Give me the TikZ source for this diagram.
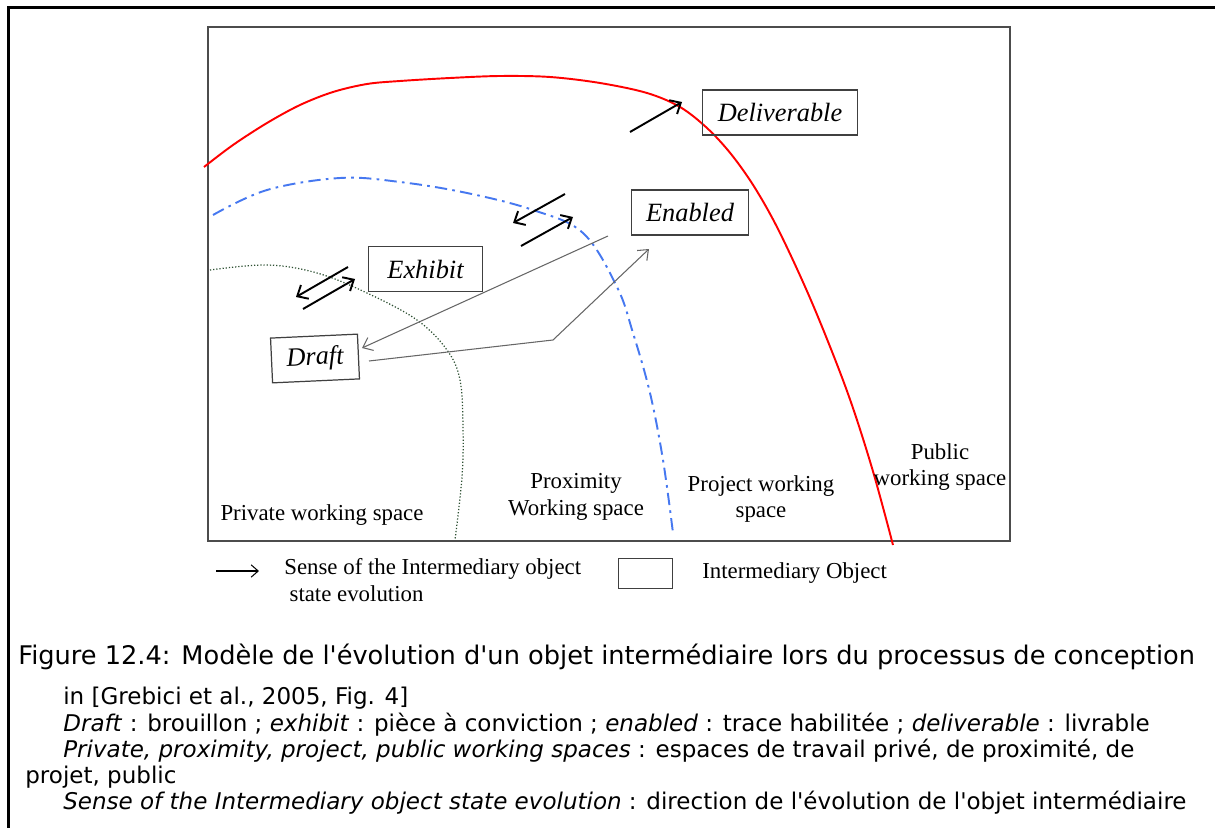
\documentclass[tikz,border=0pt]{standalone}
\usepackage{fontspec}
\setmainfont{Liberation Serif}
\newfontfamily\capfont{DejaVu Sans}
\usetikzlibrary{arrows.meta}
\definecolor{azulfrontera}{RGB}{70,120,240}
\definecolor{verdefrontera}{RGB}{45,80,50}

\begin{document}
\begin{tikzpicture}[x=0.02cm, y=-0.02cm,
    objeto/.style={draw=black!75, line width=0.7pt, font=\fontsize{15}{18}\selectfont\itshape,
                   minimum height=25.5pt, inner xsep=8.5pt, inner ysep=2pt},
    zona/.style={font=\fontsize{13}{15.3}\selectfont, align=center, inner sep=0pt},
    sentido/.style={line width=1.1pt, -{Straight Barb[length=5pt,width=9pt]}},
    traza/.style={draw=black!60, line width=0.6pt, -{Straight Barb[length=5pt,width=8pt]}},
    leyenda/.style={anchor=west, inner sep=0pt, font=\capfont\fontsize{13.1}{15}\selectfont}
]
\useasboundingbox (0,0) rectangle (1215,828);

% ---- Marcos ----
\draw[line width=1.4pt] (8.5,828) -- (8.5,7.5) -- (1215,7.5);
\draw[black!70, line width=0.6pt] (208,27) rectangle (1010,541);

% ---- Fronteras de los espacios ----
\draw[red, line width=1.1pt] plot[smooth, tension=0.55] coordinates {
  (204,167) (233,145) (267,123) (300,105) (333,92) (367,84) (400,81) (450,78)
  (500,76) (550,77) (600,83) (647,93) (680,107) (707,128) (731,154) (755,188)
  (780,233) (813,305) (847,391) (872,468) (893,545)};
\draw[azulfrontera, line width=1.1pt, dash pattern=on 7pt off 3pt on 1.5pt off 3pt]
  plot[smooth, tension=0.6] coordinates {
  (213,215) (267,190) (340,178) (400,182) (467,193) (533,210) (583,233)
  (617,287) (633,333) (650,393) (663,460) (673,533)};
\draw[verdefrontera, line width=0.7pt, dash pattern=on 0.7pt off 1.1pt]
  plot[smooth, tension=0.6] coordinates {
  (210,270) (267,265) (317,273) (367,293) (417,320) (447,350) (460,380)
  (463,427) (462,477) (455,540)};

% ---- Objetos intermedios ----
\node[objeto] (deliverable) at (780,112.5) {Deliverable};
\node[objeto] (enabled) at (690,212.5) {Enabled};
\node[objeto, minimum width=65pt] (exhibit) at (425.5,269) {Exhibit};
\node[objeto, rotate=2.6] (draft) at (315,358.5) {Draft};

% ---- Sentido de evolucion ----
\coordinate (a1) at (348,267); \coordinate (a2) at (296,297);
\coordinate (b1) at (303,309); \coordinate (b2) at (355,279);
\coordinate (c1) at (565,194); \coordinate (c2) at (513,223);
\coordinate (d1) at (521,246); \coordinate (d2) at (573,217);
\coordinate (f1) at (630,132); \coordinate (f2) at (682,102);
\draw[sentido] (a1) -- (a2);
\draw[sentido] (b1) -- (b2);
\draw[sentido] (c1) -- (c2);
\draw[sentido] (d1) -- (d2);
\draw[sentido] (f1) -- (f2);

% Trazas grises
\coordinate (g1) at (608,236); \coordinate (g2) at (362,348);
\coordinate (h1) at (369,361); \coordinate (h2) at (553,340); \coordinate (h3) at (649,249);
\draw[traza] (g1) -- (g2);
\draw[traza] (h1) -- (h2) -- (h3);

% ---- Espacios de trabajo ----
\node[zona] (privado) at (322,515) {Private working space};
\node[zona] (proximidad) at (576,497) {Proximity\\Working space};
\node[zona] (proyecto) at (761,499) {Project working\\space};
\node[zona] (publico) at (940,467) {Public\\working space};

% ---- Leyenda ----
\coordinate (l1) at (216,571); \coordinate (l2) at (259,571);
\draw[line width=0.6pt, -{Straight Barb[length=4pt,width=7pt]}] (l1) -- (l2);
\node[zona, align=left, anchor=north west] (sentidoleyenda) at (284,558)
  {Sense of the Intermediary object\\\hspace{3pt}state evolution};
\node[draw=black!75, line width=0.6pt, minimum width=31.2pt, minimum height=17.6pt,
      inner sep=0pt] (cuadro) at (645.5,573.5) {};
\node[zona, anchor=west] (objetoleyenda) at (702,573) {Intermediary Object};

% ---- Leyenda de la figura ----
\node[anchor=west, inner sep=0pt, font=\capfont\fontsize{14.6}{17}\selectfont] (titulo) at (18,657)
  {Figure 12.4: Modèle de l'évolution d'un objet intermédiaire lors du processus de conception};
\node[leyenda] (ref) at (63,698) {in [Grebici et al., 2005, Fig. 4]};
\node[leyenda] (trad1) at (63,725) {\textit{Draft} : brouillon ; \textit{exhibit} : pièce à conviction ; \textit{enabled} : trace habilitée ; \textit{deliverable} : livrable};
\node[leyenda] (trad2) at (63,751) {\textit{Private, proximity, project, public working spaces} : espaces de travail privé, de proximité, de};
\node[leyenda] (trad3) at (25,777) {projet, public};
\node[leyenda] (trad4) at (63,803) {\textit{Sense of the Intermediary object state evolution} : direction de l'évolution de l'objet intermédiaire};

\end{tikzpicture}
\end{document}
